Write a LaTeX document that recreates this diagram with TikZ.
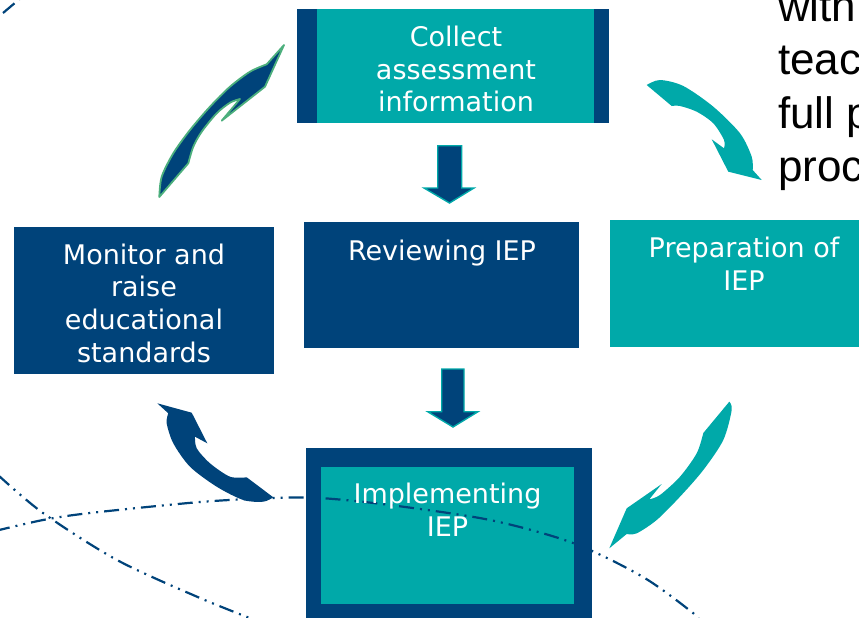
\documentclass[tikz,border=0pt]{standalone}
\usepackage{fontspec}
\setmainfont{DejaVu Sans}
\newfontfamily\arialf{Liberation Sans}
\definecolor{dkblue}{HTML}{00437A}
\definecolor{tealc}{HTML}{00A9A9}
\definecolor{arrgreen}{HTML}{4CAF7D}
\begin{document}
\begin{tikzpicture}[x=1pt,y=-1pt,
  box/.style={rectangle,inner sep=0pt,outer sep=0pt,draw=none},
  dkbox/.style={box,fill=dkblue},
  tlbox/.style={box,fill=tealc},
  lbl/.style={inner sep=0pt,outer sep=0pt,text=white,align=center,font=\fontsize{27}{32.7}\selectfont},
  downarr/.style={fill=dkblue,draw=tealc,line width=1.4pt,line join=miter},
  dashdot/.style={draw=dkblue,line width=2.2pt,dash pattern=on 15pt off 6pt on 2pt off 6pt on 2pt off 6pt}
]
\useasboundingbox (0,0) rectangle (859,618);
\clip (0,0) rectangle (859,618);

% boxes
\node[dkbox,minimum width=312pt,minimum height=113.7pt] (collect) at (453,65.8) {};
\node[tlbox,minimum width=277pt,minimum height=113.7pt] (collectin) at (455.5,65.8) {};
\node[dkbox,minimum width=275pt,minimum height=126pt] (review) at (441.5,285) {};
\node[dkbox,minimum width=260pt,minimum height=147pt] (monitor) at (144,300.5) {};
\node[tlbox,minimum width=260pt,minimum height=127pt] (prep) at (740,283.5) {};
\node[dkbox,minimum width=286pt,minimum height=177pt] (impl) at (449,536.5) {};
\node[tlbox,minimum width=253pt,minimum height=137pt] (implin) at (447.5,535.5) {};

% dash-dot curves
\draw[dashdot] plot[smooth] coordinates {(-5,531) (43,520) (90,513) (200,502) (273,498) (320,498) (390,505) (490,520) (573,543) (643,577) (693,613) (700,622)};
\draw[dashdot] plot[smooth] coordinates {(-2,475) (43,513) (117,560) (200,598) (260,622)};
\draw[dashdot] (3,13) -- (22,-3);

% straight down arrows
\draw[downarr] (437.7,145.7) -- (461.7,145.7) -- (461.7,188) -- (474,188) -- (449.5,203) -- (424,188) -- (437.7,188) -- cycle;
\draw[downarr] (441.7,369) -- (464,369) -- (464,411.7) -- (478,411.7) -- (453,427) -- (427.7,411.7) -- (441.7,411.7) -- cycle;

% curved arrows
\filldraw[fill=dkblue,draw=arrgreen,line width=1.8pt,line join=round] (159.3,197) -- plot[smooth] coordinates {(159.3,197) (161.7,176.7) (173.3,153.3) (190,130) (210,106.7) (230,86.7) (250,71.7) (266.7,64.3)} -- (284,45) -- (265,86.7) -- (221.7,120.7) -- plot[smooth] coordinates {(240,99) (230,102.7) (216.7,113.3) (201.7,131.7) (193.3,146.7) (188.3,163.3)} -- cycle;

\fill[tealc] (646.7,85) -- plot[smooth] coordinates {(646.7,85) (660,80) (683.3,86) (713.3,106.7) (740,133.3) (751.7,156.7) (752.7,170)} -- (761.7,180) -- (728.3,171.7) -- (711.7,139.3) -- plot[smooth] coordinates {(724,148.3) (724,140) (713.3,123.3) (696.7,111.7) (680,106) (671.7,106)} -- cycle;

\fill[tealc] (729.3,401.7) -- plot[smooth] coordinates {(729.3,401.7) (731.7,410) (723.3,440) (703.3,470) (680,496.7) (656.7,520) (636.7,533.3) (626.7,534)} -- (609.3,548.3) -- (626.7,508.3) -- (661.7,484) -- plot[smooth] coordinates {(649.3,499.3) (660,495) (680,476.7) (696.7,453.3) (703.3,433)} -- cycle;

\fill[dkblue] (157.3,403.3) -- (191.7,412.7) -- (207.3,443.3) -- plot[smooth] coordinates {(195,436.7) (196.7,448.3) (210,463.3) (230,476.7) (246.7,477.3)} -- (273.3,497.3) -- plot[smooth] coordinates {(273.3,497.3) (263.3,501.7) (243.3,500) (216.7,486.7) (190,466.7) (173.3,443.3) (166.7,423.3) (168.3,413.3)} -- cycle;

% texts
\node[lbl] (collectT) at (456,69) {Collect\\assessment\\information};
\node[lbl,anchor=base] (reviewT) at (442,260) {Reviewing IEP};
\node[lbl] (monitorT) at (144,303) {Monitor and\\raise\\educational\\standards};
\node[lbl] (prepT) at (744,264) {Preparation of\\IEP};
\node[lbl] (implT) at (447.5,509.7) {Implementing\\IEP};
\node[inner sep=0pt,outer sep=0pt,anchor=south west,align=left,text=black,font=\arialf\fontsize{44}{53.5}\selectfont] (sideT) at (778,191) {with\\teac\\full p\\proc};
\end{tikzpicture}
\end{document}
